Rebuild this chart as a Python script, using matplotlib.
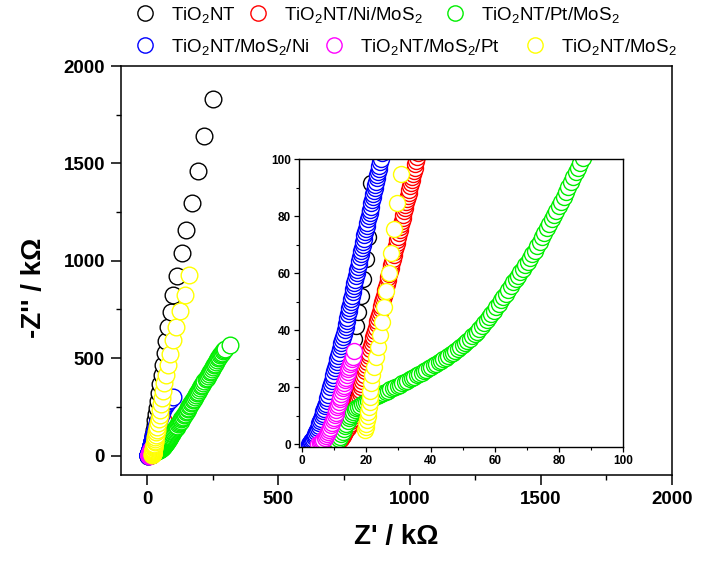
import matplotlib
matplotlib.use("Agg")
import matplotlib.pyplot as plt
from matplotlib.lines import Line2D
from matplotlib.ticker import MultipleLocator

plt.rcParams['font.family'] = ['Liberation Sans', 'DejaVu Sans']
plt.rcParams['mathtext.fontset'] = 'custom'
plt.rcParams['mathtext.rm'] = 'Liberation Sans'
plt.rcParams['mathtext.it'] = 'Liberation Sans:italic'
plt.rcParams['mathtext.bf'] = 'Liberation Sans:bold'

# ---------------- data (Z', -Z'') in kOhm ----------------
labels = ['TiO$_2$NT', 'TiO$_2$NT/Ni/MoS$_2$', 'TiO$_2$NT/Pt/MoS$_2$',
          'TiO$_2$NT/MoS$_2$/Ni', 'TiO$_2$NT/MoS$_2$/Pt', 'TiO$_2$NT/MoS$_2$']
colors = ['black', 'red', '#00ee00', 'blue', '#ff00ff', 'yellow']

tio2nt = [(4, 0), (5, 1), (6, 2.2), (7, 3.6), (8, 5.2), (9, 7.0), (10, 9.2), (11, 11.8),
          (12, 15.0), (12.8, 18.5), (13.4, 22.2), (13.9, 26), (14.6, 29.5), (15.4, 33),
          (16.1, 36.8), (16.8, 41.5), (17.5, 46.5), (18.3, 51.8), (19.1, 57.8), (19.9, 64.8),
          (20.6, 72.8), (21.2, 81.6), (21.5, 91.6), (23, 108), (25, 130), (28, 155), (31, 182),
          (34, 212), (38, 245), (42, 281), (46, 321), (50, 365), (55, 413), (60, 466),
          (66, 524), (72, 588), (80, 659), (89, 737), (100, 823), (113, 920), (131, 1040),
          (149, 1157), (169, 1297), (192, 1460), (218, 1640), (250, 1829)]

ni_mos2 = [(10.0, 0.3), (10.4, 0.55), (10.8, 0.8), (11.2, 1.15), (11.6, 1.5), (12.0, 1.95),
           (12.4, 2.4), (12.75, 2.95), (13.1, 3.5), (13.45, 4.15), (13.8, 4.8), (14.15, 5.55),
           (14.5, 6.3), (14.8, 7.15), (15.1, 8.0), (15.4, 8.9), (15.7, 9.8), (16.0, 10.75),
           (16.3, 11.7), (16.6, 12.7), (16.9, 13.7), (17.2, 14.75), (17.5, 15.8), (17.7, 16.9),
           (17.9, 18.0), (18.05, 19.0), (18.2, 20.0), (18.45, 21.1), (18.7, 22.2), (18.95, 23.3),
           (19.2, 24.4), (19.45, 25.5), (19.7, 26.6), (19.95, 27.7), (20.2, 28.8), (20.45, 29.9),
           (20.7, 31.0), (20.95, 32.1), (21.2, 33.2), (21.45, 34.3), (21.7, 35.4), (21.95, 36.5),
           (22.2, 37.6), (22.45, 38.7), (22.7, 39.8), (22.95, 40.9), (23.2, 42.0), (23.45, 43.1),
           (23.7, 44.2), (23.95, 45.3), (24.2, 46.4), (24.45, 47.5), (24.7, 48.6), (24.95, 49.7),
           (25.2, 50.8), (25.45, 51.9), (25.7, 53.0), (25.95, 54.1), (26.2, 55.2), (26.4, 56.3),
           (26.6, 57.4), (26.85, 58.5), (27.1, 59.6), (27.35, 60.7), (27.6, 61.8), (27.8, 62.9),
           (28.0, 64.0), (28.25, 65.1), (28.5, 66.2), (28.75, 67.3), (29.0, 68.4), (29.2, 69.5),
           (29.4, 70.6), (29.65, 71.7), (29.9, 72.8), (30.15, 73.9), (30.4, 75.0), (30.6, 76.1),
           (30.8, 77.2), (31.05, 78.3), (31.3, 79.4), (31.55, 80.5), (31.8, 81.6), (32.0, 82.7),
           (32.2, 83.8), (32.45, 84.9), (32.7, 86.0), (32.95, 87.1), (33.2, 88.2), (33.4, 89.3),
           (33.6, 90.4), (33.85, 91.5), (34.1, 92.6), (34.35, 93.7), (34.6, 94.8), (34.85, 95.9),
           (35.1, 97.0), (35.3, 98.1), (35.5, 99.2), (35.8, 100.6), (36.1, 102), (36.5, 103.75),
           (36.9, 105.5), (37.4, 107.75), (37.9, 110), (38.55, 112.75), (39.2, 115.5),
           (40.0, 118.75), (40.8, 122), (41.8, 126), (42.8, 130), (44.0, 134.5), (45.2, 139),
           (46.6, 144), (48, 149), (49.6, 154.5), (51.2, 160), (53.1, 166), (55, 172),
           (57, 178.5), (59, 185)]

pt_mos2 = [(11.0, 1.0), (11.4, 1.8), (11.8, 2.6), (12.2, 3.5), (12.6, 4.4), (13.0, 5.3),
           (13.4, 6.3), (13.8, 7.2), (14.2, 8.2), (14.6, 9.1), (15.0, 9.9), (15.45, 10.6),
           (15.9, 11.3), (16.4, 11.9), (16.9, 12.5), (17.45, 13.0), (18.0, 13.5), (18.6, 14.0),
           (19.2, 14.4), (19.85, 14.8), (20.5, 15.2), (21.15, 15.6), (21.8, 16.0), (22.5, 16.4),
           (23.2, 16.8), (23.9, 17.2), (24.6, 17.6), (25.3, 18.0), (26.0, 18.4), (26.75, 18.8),
           (27.5, 19.2), (28.25, 19.6), (29.0, 20.0), (29.75, 20.45), (30.5, 20.9),
           (31.25, 21.35), (32.0, 21.8), (32.75, 22.25), (33.5, 22.7), (34.25, 23.15),
           (35.0, 23.6), (35.75, 24.1), (36.5, 24.6), (37.25, 25.1), (38.0, 25.6), (38.75, 26.1),
           (39.5, 26.6), (40.25, 27.1), (41.0, 27.6), (41.75, 28.15), (42.5, 28.7),
           (43.25, 29.25), (44.0, 29.8), (44.75, 30.35), (45.5, 30.9), (46.25, 31.5),
           (47.0, 32.1), (47.75, 32.7), (48.5, 33.3), (49.25, 33.95), (50.0, 34.6),
           (50.75, 35.4), (51.5, 36.2), (52.25, 37.0), (53.0, 37.8), (53.75, 38.6), (54.5, 39.4),
           (55.25, 40.4), (56.0, 41.4), (56.75, 42.4), (57.5, 43.4), (58.25, 44.5), (59.0, 45.6),
           (59.75, 46.8), (60.5, 48.0), (61.25, 49.2), (62.0, 50.4), (62.75, 51.6), (63.5, 52.8),
           (64.25, 54.15), (65.0, 55.5), (65.75, 56.7), (66.5, 57.9), (67.25, 59.1),
           (68.0, 60.3), (68.75, 61.5), (69.5, 62.7), (70.25, 63.95), (71.0, 65.2),
           (71.75, 66.55), (72.5, 67.9), (73.25, 69.4), (74.0, 70.9), (74.75, 72.55),
           (75.5, 74.2), (76.25, 75.75), (77.0, 77.3), (77.75, 78.85), (78.5, 80.4),
           (79.25, 81.9), (80.0, 83.4), (80.75, 85.05), (81.5, 86.7), (82.25, 88.45),
           (83.0, 90.2), (83.75, 91.9), (84.5, 93.6), (85.25, 95.3), (86.0, 97.0),
           (86.75, 98.75), (87.5, 100.5), (90, 106), (92.5, 110.5), (95, 115), (97.5, 119.5),
           (100, 124), (103, 130), (106, 136), (109, 142), (112, 148), (115, 154), (118, 160),
           (121, 166.5), (124, 173), (127, 179.5), (130, 186), (133, 192.5), (136, 199),
           (139.5, 206.5), (143, 214), (146.5, 221.5), (150, 229), (153.5, 236.5), (157, 244),
           (160.5, 252), (164, 260), (167.5, 268), (171, 276), (174.5, 284), (178, 292),
           (182, 301), (186, 310), (190, 319), (194, 328), (198, 337), (202, 346), (206, 355),
           (210, 364), (214, 373), (218, 382), (222, 391), (226, 400), (230, 409), (234, 418),
           (238, 427), (242, 436), (246, 445), (250, 454), (254, 463), (258, 472), (262, 481),
           (266, 490), (270, 498.5), (274, 507), (278, 514.5), (282, 522), (286, 529),
           (290, 536), (294, 542), (298, 548), (314, 566)]

mos2_ni = [(2.0, 0.0), (2.3, 0.3), (2.6, 0.6), (2.85, 1.0), (3.1, 1.4), (3.35, 1.9), (3.6, 2.4),
           (3.85, 3.0), (4.1, 3.6), (4.35, 4.3), (4.6, 5.0), (4.85, 5.75), (5.1, 6.5),
           (5.35, 7.3), (5.6, 8.1), (5.85, 8.95), (6.1, 9.8), (6.35, 10.65), (6.6, 11.5),
           (6.85, 12.4), (7.1, 13.3), (7.35, 14.25), (7.6, 15.2), (7.85, 16.2), (8.1, 17.2),
           (8.4, 18.6), (8.7, 20.0), (8.95, 21.1), (9.2, 22.2), (9.45, 23.3), (9.7, 24.4),
           (9.95, 25.5), (10.2, 26.6), (10.45, 27.7), (10.7, 28.8), (10.95, 29.9), (11.2, 31.0),
           (11.45, 32.1), (11.7, 33.2), (11.95, 34.3), (12.2, 35.4), (12.45, 36.5), (12.7, 37.6),
           (13.0, 38.8), (13.3, 40.0), (13.5, 41.1), (13.7, 42.2), (13.9, 43.3), (14.1, 44.4),
           (14.3, 45.5), (14.5, 46.6), (14.7, 47.7), (14.9, 48.8), (15.1, 49.9), (15.3, 51.0),
           (15.5, 52.1), (15.7, 53.2), (15.9, 54.3), (16.1, 55.4), (16.3, 56.5), (16.5, 57.6),
           (16.75, 58.8), (17.0, 60.0), (17.2, 61.1), (17.4, 62.2), (17.6, 63.3), (17.8, 64.4),
           (18.0, 65.5), (18.2, 66.6), (18.4, 67.7), (18.6, 68.8), (18.8, 69.9), (19.0, 71.0),
           (19.2, 72.1), (19.4, 73.2), (19.65, 74.3), (19.9, 75.4), (20.1, 76.5), (20.3, 77.6),
           (20.55, 78.8), (20.8, 80.0), (21.0, 81.1), (21.2, 82.2), (21.4, 83.3), (21.6, 84.4),
           (21.8, 85.5), (22.0, 86.6), (22.2, 87.7), (22.4, 88.8), (22.6, 89.9), (22.8, 91.0),
           (23.0, 92.1), (23.2, 93.2), (23.4, 94.3), (23.6, 95.4), (23.8, 96.5), (24.0, 97.6),
           (24.25, 98.8), (24.5, 100.0), (24.9, 102), (25.3, 104), (25.75, 106.25), (26.2, 108.5),
           (26.7, 111), (27.2, 113.5), (27.8, 116.25), (28.4, 119), (29.1, 122), (29.8, 125),
           (30.6, 128.5), (31.4, 132), (32.3, 136), (33.2, 140), (34.25, 144.5), (35.3, 149),
           (36.45, 154), (37.6, 159), (38.9, 164.5), (40.2, 170), (41.7, 176), (43.2, 182),
           (44.9, 188.5), (46.6, 195), (48.55, 202), (50.5, 209), (52.75, 216.5), (55, 224),
           (57.75, 232), (60.5, 240), (63.75, 248), (67, 256), (71, 264), (75, 272), (80, 280),
           (85, 287), (97, 300)]

mos2_pt = [(5.0, 0.0), (5.4, 0.3), (5.8, 0.6), (6.2, 1.05), (6.6, 1.5), (7.0, 2.1), (7.4, 2.7),
           (7.75, 3.4), (8.1, 4.1), (8.4, 4.9), (8.7, 5.7), (9.0, 6.55), (9.3, 7.4), (9.6, 8.3),
           (9.9, 9.2), (10.15, 10.1), (10.4, 11.0), (10.65, 11.95), (10.9, 12.9), (11.15, 13.85),
           (11.4, 14.8), (11.65, 15.75), (11.9, 16.7), (12.15, 17.65), (12.4, 18.6),
           (12.65, 19.55), (12.9, 20.5), (13.15, 21.45), (13.4, 22.4), (13.65, 23.35),
           (13.9, 24.3), (14.15, 25.25), (14.4, 26.2), (14.65, 27.1), (14.9, 28.0),
           (15.15, 28.85), (15.4, 29.7), (15.7, 30.7), (16.2, 32.6)]

mos2 = [(19.6, 4.9), (19.8, 6.0), (20.0, 7.2), (20.2, 8.5), (20.4, 9.9), (20.6, 11.4),
        (20.8, 13.0), (21.0, 14.8), (21.1, 16.7), (21.2, 18.8), (21.4, 21.3), (21.9, 24.2),
        (22.4, 27.2), (22.9, 30.7), (23.5, 34.2), (24.2, 38.3), (24.8, 43.0), (25.4, 48.0),
        (26.1, 53.7), (27.0, 60.0), (27.8, 67.2), (28.6, 75.5), (29.6, 84.5), (30.7, 94.7),
        (32, 106), (34, 119), (36, 133), (38, 149), (41, 167), (44, 187), (47, 210), (50, 235),
        (53, 263), (57, 295), (60, 330), (65, 370), (71, 411), (79, 463), (88, 523), (100, 591),
        (110, 660), (123, 742), (142, 826), (159, 925)]

series = [tio2nt, ni_mos2, pt_mos2, mos2_ni, mos2_pt, mos2]

main_ticks = [0, 500, 1000, 1500, 2000]
inset_ticks = [0, 20, 40, 60, 80, 100]

# ---------------- figure ----------------
fig = plt.figure(figsize=(7.04, 5.71), dpi=100)
ax = fig.add_axes([0.1719, 0.1681, 0.7827, 0.7163])
axin = fig.add_axes([0.4247, 0.2172, 0.4602, 0.5043])

for pts, c in zip(series, colors):
    xs = [p[0] for p in pts]
    ys = [p[1] for p in pts]
    ax.plot(xs, ys, ls='none', marker='o', ms=12, mfc='white', mec=c, mew=1.0)
    axin.plot(xs, ys, ls='none', marker='o', ms=11.5, mfc='white', mec=c, mew=1.0)

ax.set_xlim(-100, 2000)
ax.set_ylim(-100, 2000)
ax.set_xticks(main_ticks)
ax.set_yticks(main_ticks)
ax.xaxis.set_minor_locator(MultipleLocator(250))
ax.yaxis.set_minor_locator(MultipleLocator(250))
ax.tick_params(which='major', direction='out', length=7.5, width=1.1,
               labelsize=13.5, pad=4, top=False, right=False)
ax.tick_params(which='minor', direction='out', length=3.5, width=1.0,
               top=False, right=False)
for lab in ax.get_xticklabels() + ax.get_yticklabels():
    lab.set_fontweight('bold')
for s in ax.spines.values():
    s.set_linewidth(1.1)

ax.set_xlabel("Z' / k\u03a9", fontsize=20, fontweight='bold', va='center')
ax.xaxis.set_label_coords(0.5, -0.152)
ax.set_ylabel("-Z'' / k\u03a9", fontsize=20, fontweight='bold', va='center')
ax.yaxis.set_label_coords(-0.158, 0.457)

axin.set_xlim(-1, 100)
axin.set_ylim(-1, 100)
axin.set_xticks(inset_ticks)
axin.set_yticks(inset_ticks)
axin.xaxis.set_minor_locator(MultipleLocator(10))
axin.yaxis.set_minor_locator(MultipleLocator(10))
axin.tick_params(which='major', direction='out', length=3.5, width=0.9,
                 labelsize=8.5, pad=2.5, top=False, right=False)
axin.tick_params(which='minor', direction='out', length=2, width=0.8,
                 top=False, right=False)
for lab in axin.get_xticklabels() + axin.get_yticklabels():
    lab.set_fontweight('bold')
for s in axin.spines.values():
    s.set_linewidth(1.0)

# ---------------- legend (two rows, staggered columns) ----------------
leg_pos = [(145, 15), (258, 15), (455, 15), (145, 47), (334, 47), (535, 47)]
W, H = 704.0, 571.0
for (px, py), lab, c in zip(leg_pos, labels, colors):
    h = Line2D([], [], ls='none', marker='o', ms=11, mfc='white', mec=c, mew=1.0)
    fig.legend(handles=[h], labels=[lab], loc='center left',
               bbox_to_anchor=((px - 9) / W, 1 - py / H), frameon=False,
               borderpad=0, borderaxespad=0, handlelength=1.0, handletextpad=0.85,
               fontsize=13.5, numpoints=1)

fig.savefig('out.png', dpi=100)
